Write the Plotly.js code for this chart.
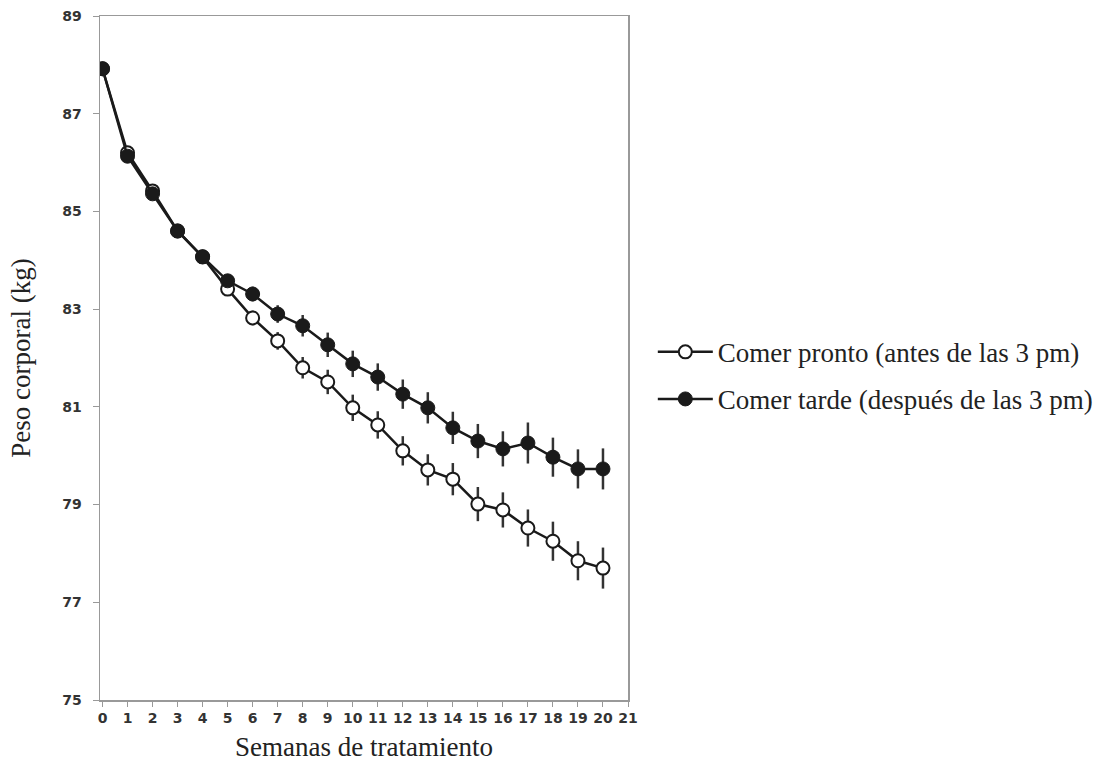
<!DOCTYPE html>
<html><head><meta charset="utf-8">
<script src="https://cdn.plot.ly/plotly-3.0.1.min.js"></script>
<style>html,body{margin:0;padding:0;background:#fff}#chart{width:1107px;height:764px}</style>
</head><body><div id="chart"></div>
<script>
const weeks = [0,1,2,3,4,5,6,7,8,9,10,11,12,13,14,15,16,17,18,19,20];
const prontoVals = [87.92,86.20,85.42,84.60,84.07,83.41,82.82,82.35,81.80,81.51,80.98,80.63,80.10,79.71,79.52,79.01,78.89,78.52,78.25,77.85,77.70];
const prontoErr  = [0,0.05,0.07,0.08,0.1,0.12,0.15,0.18,0.22,0.25,0.27,0.28,0.3,0.32,0.33,0.35,0.36,0.38,0.4,0.4,0.42];
const tardeVals  = [87.92,86.13,85.36,84.60,84.07,83.58,83.31,82.90,82.66,82.27,81.88,81.61,81.26,80.98,80.57,80.30,80.14,80.26,79.97,79.73,79.73];
const tardeErr   = [0,0.05,0.07,0.08,0.1,0.12,0.15,0.18,0.22,0.25,0.27,0.28,0.3,0.32,0.33,0.35,0.36,0.42,0.4,0.4,0.42];
const xTicks = [0,1,2,3,4,5,6,7,8,9,10,11,12,13,14,15,16,17,18,19,20,21];
const yTicks = [75,77,79,81,83,85,87,89];
const names = ["Comer pronto (antes de las 3 pm)","Comer tarde (después de las 3 pm)"];

const traces = [
  {x: weeks, y: prontoVals, name: names[0], legendgroup:'a', type:'scatter', mode:'lines+markers',
   line:{color:'#1a1a1a', width:2.5},
   marker:{symbol:'circle', size:13, color:'#ffffff', line:{color:'#1a1a1a', width:2}},
   error_y:{type:'data', array: prontoErr, visible:true, color:'#333', thickness:2.5, width:0}},
  {x: weeks, y: tardeVals, name: names[1], legendgroup:'b', type:'scatter', mode:'lines+markers',
   line:{color:'#1a1a1a', width:2.5},
   marker:{symbol:'circle', size:14, color:'#1a1a1a', line:{color:'#1a1a1a', width:1}},
   error_y:{type:'data', array: tardeErr, visible:true, color:'#333', thickness:2.5, width:0}}
];

const layout = {
  width:1107, height:764,
  margin:{l:100, r:479, t:16, b:64, autoexpand:false},
  paper_bgcolor:'#fff', plot_bgcolor:'#fff',
  showlegend:true,
  legend:{x:1.047, y:0.474, xanchor:'left', yanchor:'middle', traceorder:'grouped',
          font:{family:'Liberation Serif, serif', size:27, color:'#222'},
          tracegroupgap:9, itemwidth:55},
  xaxis:{range:[-0.1,21], tickvals:xTicks, ticktext:xTicks.map(String),
         showline:true, linecolor:'#999', linewidth:1.5, mirror:true,
         ticks:'outside', ticklen:5, tickcolor:'#999', showgrid:false, zeroline:false,
         tickfont:{family:'DejaVu Sans, Verdana, sans-serif', size:14, color:'#333', weight:'bold'},
         title:{text:'Semanas de tratamiento', font:{family:'Liberation Serif, serif', size:27, color:'#222'}, standoff:12}},
  yaxis:{range:[75,89], tickvals:yTicks, ticktext:yTicks.map(String),
         showline:true, linecolor:'#999', linewidth:1.5, mirror:true,
         ticks:'outside', ticklen:6, tickcolor:'#999', showgrid:false, zeroline:false,
         ticklabelstandoff:8,
         tickfont:{family:'DejaVu Sans, Verdana, sans-serif', size:14, color:'#333', weight:'bold'},
         title:{text:'Peso corporal (kg)', font:{family:'Liberation Serif, serif', size:27, color:'#222'}, standoff:24}}
};
Plotly.newPlot('chart', traces, layout, {displayModeBar:false, staticPlot:true});
</script></body></html>
